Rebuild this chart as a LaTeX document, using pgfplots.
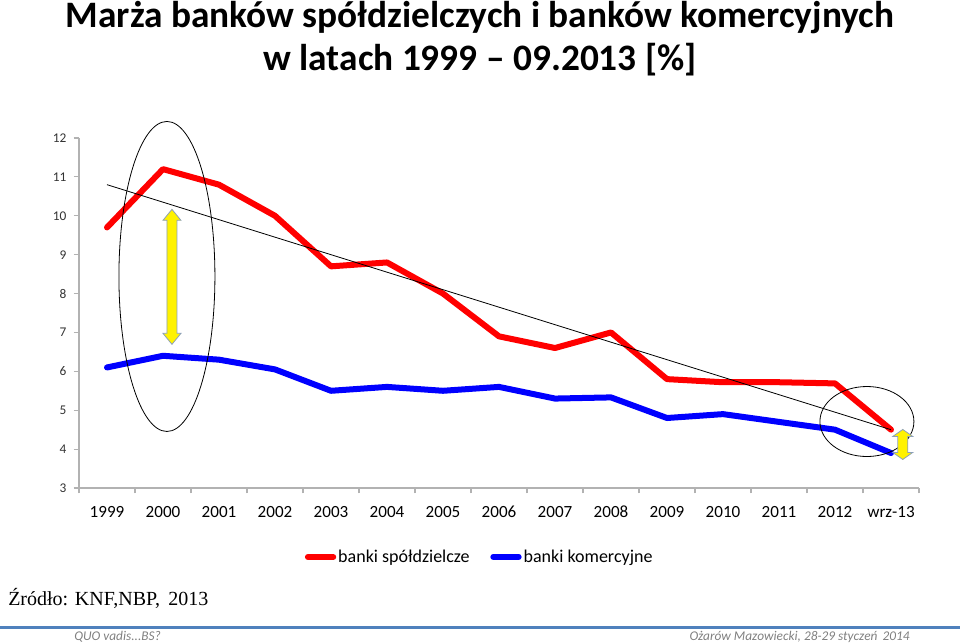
\documentclass[border=0pt]{standalone}
\usepackage{pgfplots}
\pgfplotsset{compat=1.18}
\usepackage{fontspec}
\setmainfont{Carlito}
\newfontfamily\srcfont{Liberation Serif}
\definecolor{rulec}{RGB}{79,129,189}
\definecolor{arrowedge}{RGB}{140,160,185}
\begin{document}
\begin{tikzpicture}
\path[use as bounding box] (0,0) rectangle (720pt,-482.25pt);
\begin{axis}[
 at={(59.25pt,-366pt)}, anchor=south west,
 scale only axis, width=630pt, height=262.5pt,
 xmin=-0.5, xmax=14.5, ymin=3, ymax=12,
 axis x line*=bottom, axis y line*=left,
 axis line style={draw=gray!60, line width=0.8pt},
 xtick={0,...,14},
 xticklabels={1999,2000,2001,2002,2003,2004,2005,2006,2007,2008,2009,2010,2011,2012,wrz-13},
 major x tick style={draw=none},
 minor xtick={-0.5,0.5,...,14.5},
 minor x tick style={draw=gray!60, line width=0.8pt},
 ytick={3,...,12},
 major y tick style={draw=gray!60, line width=0.8pt},
 tick align=outside,
 major tick length=4pt, minor tick length=4pt,
 x tick label style={font=\fontsize{12.8}{15}\selectfont, yshift=-6pt},
 y tick label style={font=\fontsize{10}{12}\selectfont, xshift=-2pt, text=black!80},
 /pgf/number format/assume math mode=true,
 clip=false,
 legend columns=2,
 legend style={at={(0.477,-0.197)}, anchor=center, draw=none, fill=none,
   font=\fontsize{13.5}{16}\selectfont,
   nodes={inner xsep=1.5pt},
   /tikz/every even column/.append style={column sep=14pt}},
 legend image code/.code={\draw[#1] (0pt,0pt) -- (19pt,0pt);},
]
\addplot[red, line width=4.5pt, line cap=round, line join=round] coordinates {
 (0,9.7) (1,11.2) (2,10.8) (3,10.0) (4,8.7) (5,8.8) (6,8.0) (7,6.9)
 (8,6.6) (9,7.0) (10,5.8) (11,5.72) (12,5.72) (13,5.69) (14,4.5)};
\addlegendentry{banki spółdzielcze}
\addplot[blue, line width=4.5pt, line cap=round, line join=round] coordinates {
 (0,6.1) (1,6.4) (2,6.3) (3,6.05) (4,5.5) (5,5.6) (6,5.5) (7,5.6)
 (8,5.3) (9,5.33) (10,4.8) (11,4.9) (12,4.7) (13,4.5) (14,3.9)};
\addlegendentry{banki komercyjne}
\addplot[black, line width=0.6pt, forget plot] coordinates {(0,10.8) (14,4.5)};
\coordinate (E1) at (axis cs:1.07,8.44);
\coordinate (E2) at (axis cs:13.57,4.71);
\coordinate (A1) at (axis cs:1.16,8.43);
\coordinate (A2) at (axis cs:14.21,4.12);
\end{axis}
\draw[black, line width=0.6pt] (E1) ellipse [x radius=36pt, y radius=116.25pt];
\draw[black, line width=0.6pt] (E2) ellipse [x radius=35.25pt, y radius=26.25pt];
\begin{scope}[shift={(A1)}, x=0.75pt, y=-0.75pt]
 \draw[fill=yellow, draw=arrowedge, line width=0.6pt]
  (0,-67.5) -- (9,-56.5) -- (5,-56.5) -- (5,56.5) -- (9,56.5) -- (0,67.5)
  -- (-9,56.5) -- (-5,56.5) -- (-5,-56.5) -- (-9,-56.5) -- cycle;
\end{scope}
\begin{scope}[shift={(A2)}, x=0.75pt, y=-0.75pt]
 \draw[fill=yellow, draw=arrowedge, line width=0.6pt]
  (0,-15) -- (10,-8) -- (5,-8) -- (5,8) -- (10,8) -- (0,15)
  -- (-10,8) -- (-5,8) -- (-5,-8) -- (-10,-8) -- cycle;
\end{scope}
\begin{scope}[x=0.75pt, y=-0.75pt]
 \node[font=\bfseries\fontsize{28}{33}\selectfont] at (480,18) {Marża banków spółdzielczych i banków komercyjnych};
 \node[font=\bfseries\fontsize{28}{33}\selectfont] at (480,60) {w latach 1999 – 09.2013 [\%]};
 \node[anchor=west, font=\srcfont\fontsize{15}{18}\selectfont, inner sep=0pt] at (8,598) {Źródło: KNF,NBP,\, 2013};
 \fill[rulec] (0,626) rectangle (960,628.5);
 \node[anchor=west, font=\itshape\fontsize{10}{12}\selectfont, text=gray, inner sep=0pt] at (74,637) {QUO vadis...BS?};
 \node[anchor=east, font=\itshape\fontsize{10}{12}\selectfont, text=gray, inner sep=0pt] at (910,637) {Ożarów Mazowiecki, 28-29 styczeń\, 2014};
\end{scope}
\end{tikzpicture}
\end{document}
